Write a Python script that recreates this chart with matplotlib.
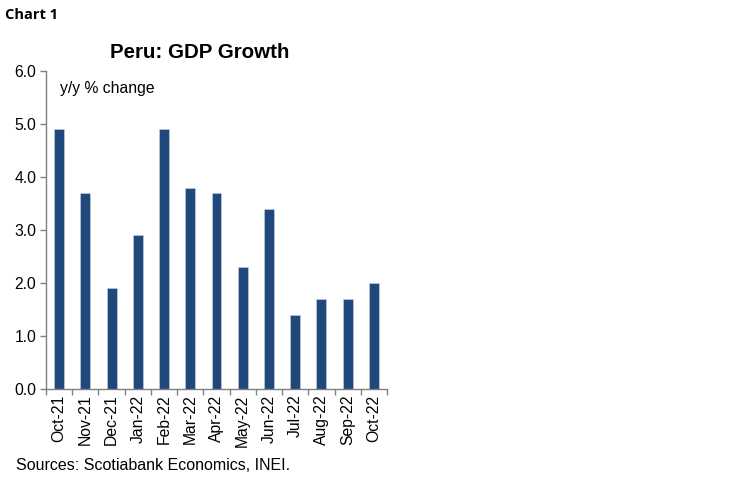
import matplotlib.pyplot as plt
import numpy as np

months = ['Oct-21', 'Nov-21', 'Dec-21', 'Jan-22', 'Feb-22', 'Mar-22', 'Apr-22',
          'May-22', 'Jun-22', 'Jul-22', 'Aug-22', 'Sep-22', 'Oct-22']
gdp_growth = [4.9, 3.7, 1.9, 2.9, 4.9, 3.8, 3.7, 2.3, 3.4, 1.4, 1.7, 1.7, 2.0]
y_ticks = [0.0, 1.0, 2.0, 3.0, 4.0, 5.0, 6.0]

plt.rcParams['font.family'] = ['Liberation Sans', 'DejaVu Sans']

fig = plt.figure(figsize=(7.5, 4.83), dpi=100)
ax = fig.add_axes([0.0613, 0.1946, 0.4547, 0.658])

x = np.arange(len(months))
ax.bar(x, gdp_growth, width=0.38, color='#1f497d', edgecolor='#c9d3e0', linewidth=0.4)

ax.set_xlim(-0.5, len(months) - 0.5)
ax.set_ylim(0, 6)
ax.set_yticks(y_ticks)
ax.set_yticklabels([f'{v:.1f}' for v in y_ticks], fontsize=11.3)

# category labels centred, tick marks on the boundaries
ax.set_xticks(x)
ax.set_xticklabels(months, rotation=90, fontsize=11.3)
ax.tick_params(axis='x', which='major', length=0, pad=4)
ax.set_xticks(np.arange(-0.5, len(months)), minor=True)
ax.tick_params(axis='x', which='minor', length=4, color='#808080', width=1)
ax.tick_params(axis='y', length=4, color='#808080', width=1, pad=3)

for side in ['top', 'right']:
  ax.spines[side].set_visible(False)
for side in ['left', 'bottom']:
  ax.spines[side].set_color('#808080')
  ax.spines[side].set_linewidth(1)

ax.text(0.042, 0.97, 'y/y % change', transform=ax.transAxes, fontsize=11.3, va='top', ha='left')

fig.text(200 / 750, 1 - 53 / 483, 'Peru: GDP Growth', fontsize=14.8, fontweight='bold',
         ha='center', va='center')
fig.text(5 / 750, 1 - 15 / 483, 'Chart 1', fontsize=10.5, fontweight='bold',
         family=['Open Sans', 'DejaVu Sans'], ha='left', va='center')
fig.text(16 / 750, 1 - 465 / 483, 'Sources: Scotiabank Economics, INEI.', fontsize=11.5,
         ha='left', va='center')

fig.savefig('out.png', dpi=100)
